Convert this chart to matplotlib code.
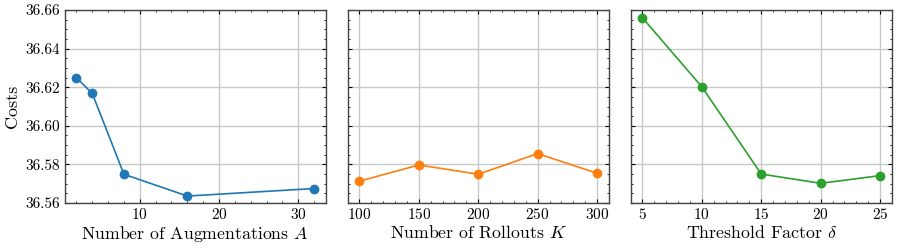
import matplotlib
matplotlib.use("Agg")
import matplotlib.pyplot as plt
from matplotlib.ticker import AutoMinorLocator, MultipleLocator

plt.rcParams.update({
    "font.family": "serif",
    "font.serif": ["cmr10", "DejaVu Serif"],
    "mathtext.fontset": "cm",
    "axes.formatter.use_mathtext": True,
    "xtick.direction": "in",
    "ytick.direction": "in",
    "xtick.top": True,
    "ytick.right": True,
    "xtick.minor.visible": True,
    "ytick.minor.visible": True,
    "xtick.major.size": 3,
    "ytick.major.size": 3,
    "xtick.minor.size": 1.5,
    "ytick.minor.size": 1.5,
    "axes.linewidth": 1.0,
    "axes.edgecolor": "#444444",
})

aug_x = [2, 4, 8, 16, 32]
aug_y = [36.6249, 36.6168, 36.5749, 36.5636, 36.5675]
roll_x = [100, 150, 200, 250, 300]
roll_y = [36.5713, 36.5797, 36.5749, 36.5856, 36.5754]
thr_x = [5, 10, 15, 20, 25]
thr_y = [36.6560, 36.6202, 36.5750, 36.5702, 36.5742]

xlabels = ["Number of Augmentations $A$", "Number of Rollouts $K$", r"Threshold Factor $\delta$"]
colors = ["#1f77b4", "#ff7f0e", "#2ca02c"]
yticks = [36.56, 36.58, 36.60, 36.62, 36.64, 36.66]

fig = plt.figure(figsize=(8.97, 2.49), dpi=100)
lefts = [64.5, 347.5, 630.5]
width = 261.5
bottom_px, top_px = 203, 10
axes = []
for i, (xs, ys) in enumerate([(aug_x, aug_y), (roll_x, roll_y), (thr_x, thr_y)]):
    ax = fig.add_axes([lefts[i] / 897, 1 - bottom_px / 249, width / 897, (bottom_px - top_px) / 249])
    ax.plot(xs, ys, "-o", color=colors[i], markersize=6, linewidth=1.2)
    ax.set_ylim(36.56, 36.66)
    ax.set_yticks(yticks)
    ax.yaxis.set_minor_locator(AutoMinorLocator(4))
    ax.grid(True, color="#c8c8c8", linewidth=1.0)
    ax.set_axisbelow(True)
    ax.set_xlabel(xlabels[i], fontsize=12.8, labelpad=1)
    ax.tick_params(labelsize=11, pad=3)
    if i == 0:
        ax.set_ylabel("Costs", fontsize=13, labelpad=4)
        ax.set_yticklabels([f"{v:.2f}" for v in yticks])
    else:
        ax.tick_params(labelleft=False)
    axes.append(ax)

axes[0].xaxis.set_major_locator(MultipleLocator(10))
axes[1].set_xticks(roll_x)
axes[1].xaxis.set_minor_locator(AutoMinorLocator(5))
axes[2].set_xticks(thr_x)
axes[2].xaxis.set_minor_locator(AutoMinorLocator(5))

fig.savefig("out.png", dpi=100)
